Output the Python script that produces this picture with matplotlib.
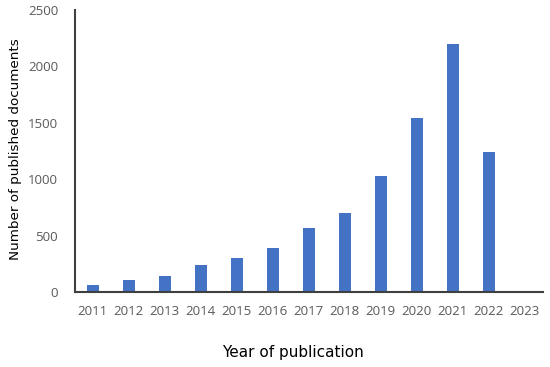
import matplotlib
matplotlib.use("Agg")
import matplotlib.pyplot as plt

years = ["2011", "2012", "2013", "2014", "2015", "2016", "2017",
         "2018", "2019", "2020", "2021", "2022", "2023"]
documents = [59, 106, 139, 237, 301, 387, 565, 700, 1031, 1543, 2199, 1241, 0]
yticks = [0, 500, 1000, 1500, 2000, 2500]

fig = plt.figure(figsize=(5.5, 3.67), dpi=100)
ax = fig.add_axes([0.136, 0.204, 0.851, 0.769])

ax.bar(range(len(years)), documents, width=0.33, color="#4472C4")
ax.set_xlim(-0.5, len(years) - 0.5)
ax.set_ylim(0, 2500)
ax.set_xticks(range(len(years)))
ax.set_xticklabels(years)
ax.set_yticks(yticks)

for s in ["top", "right"]:
    ax.spines[s].set_visible(False)
for s in ["left", "bottom"]:
    ax.spines[s].set_color("#404040")
    ax.spines[s].set_linewidth(1.5)

ax.tick_params(axis="both", length=0, labelsize=9.5, labelcolor="#595959")
ax.tick_params(axis="x", pad=9)
ax.tick_params(axis="y", pad=12)
for lbl in ax.get_xticklabels() + ax.get_yticklabels():
    lbl.set_family("Open Sans")

fig.text(0.029, 0.593, "Number of published documents", rotation=90,
         ha="center", va="center", fontsize=9.7, color="black")
fig.text(0.533, 0.04, "Year of publication", ha="center", va="center",
         fontsize=11, color="black")

fig.savefig("out.png", dpi=100)
